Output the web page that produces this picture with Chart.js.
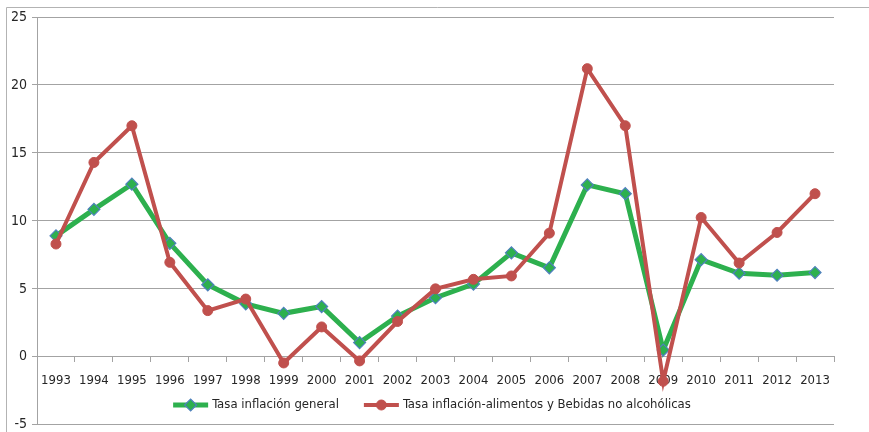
<!DOCTYPE html>
<html>
<head>
<meta charset="utf-8">
<script src="https://cdn.jsdelivr.net/npm/chart.js@4/dist/chart.umd.min.js"></script>
<style>
  html, body { margin: 0; padding: 0; background: #ffffff; }
  #wrap { position: relative; width: 869px; height: 432px; }
</style>
</head>
<body>
<div id="wrap"><canvas id="c" width="869" height="432"></canvas></div>
<script>
// Annual inflation rates (%)
const years = ['1993','1994','1995','1996','1997','1998','1999','2000','2001','2002','2003',
               '2004','2005','2006','2007','2008','2009','2010','2011','2012','2013'];
const generalRate = [8.9, 10.85, 12.7, 8.35, 5.3, 3.9, 3.2, 3.7, 1.05, 3.0, 4.35,
                     5.35, 7.65, 6.55, 12.65, 12.0, 0.5, 7.15, 6.15, 6.0, 6.2];
const foodRate = [8.3, 14.3, 17.0, 6.95, 3.4, 4.25, -0.45, 2.2, -0.3, 2.6, 5.0,
                  5.7, 5.95, 9.1, 21.2, 17.0, -1.8, 10.25, 6.9, 9.15, 12.0];
const seriesNames = ['Tasa inflación general', 'Tasa inflación-alimentos y Bebidas no alcohólicas'];
const yMin = -5, yMax = 25, yStep = 5;

const FONT_FAMILY = "'DejaVu Sans Condensed', 'Liberation Sans', sans-serif";
const FONT_SIZE = 13;
const TEXT_COLOR = '#262626';
const GRID_COLOR = '#a3a3a3';

// Thin outer frame around the chart object
const framePlugin = {
  id: 'frame',
  beforeDraw(chart) {
    const ctx = chart.ctx;
    ctx.save();
    ctx.strokeStyle = '#b3b3b3';
    ctx.lineWidth = 1;
    ctx.beginPath();
    ctx.moveTo(6.5, chart.height);
    ctx.lineTo(6.5, 7.5);
    ctx.lineTo(chart.width, 7.5);
    ctx.stroke();
    ctx.restore();
  }
};

// Legend drawn inside the plot, below the year labels
const insideLegend = {
  id: 'insideLegend',
  afterDraw(chart) {
    const ctx = chart.ctx;
    const sets = chart.data.datasets;
    ctx.save();
    ctx.font = FONT_SIZE + "px " + FONT_FAMILY;
    const lineLen = 35, gap = 4, itemGap = 25;
    const widths = sets.map(ds => ctx.measureText(ds.label).width);
    const total = widths.reduce((s, w) => s + lineLen + gap + w, 0) + itemGap * (sets.length - 1);
    let x = 432 - total / 2;
    const y = 405;
    sets.forEach((ds, i) => {
      ctx.strokeStyle = ds.borderColor;
      ctx.lineWidth = ds.borderWidth;
      ctx.lineCap = 'butt';
      ctx.beginPath();
      ctx.moveTo(x, y);
      ctx.lineTo(x + lineLen, y);
      ctx.stroke();
      ctx.fillStyle = ds.pointBackgroundColor;
      ctx.strokeStyle = ds.pointBorderColor;
      ctx.lineWidth = ds.pointBorderWidth;
      Chart.helpers.drawPoint(ctx, {
        pointStyle: ds.pointStyle, rotation: 0,
        radius: ds.pointRadius, borderWidth: ds.pointBorderWidth
      }, x + lineLen / 2, y);
      ctx.fillStyle = TEXT_COLOR;
      ctx.textAlign = 'left';
      ctx.textBaseline = 'middle';
      ctx.fillText(ds.label, x + lineLen + gap, y);
      x += lineLen + gap + widths[i] + itemGap;
    });
    ctx.restore();
  }
};

new Chart(document.getElementById('c'), {
  type: 'line',
  data: {
    labels: years,
    datasets: [
      {
        label: seriesNames[0],
        data: generalRate,
        borderColor: '#2db04e',
        borderWidth: 5,
        pointStyle: 'rectRot',
        pointRadius: 6,
        pointBackgroundColor: '#2db04e',
        pointBorderColor: '#4f81bd',
        pointBorderWidth: 1.2,
        tension: 0,
        order: 1
      },
      {
        label: seriesNames[1],
        data: foodRate,
        borderColor: '#c0504d',
        borderWidth: 4,
        pointStyle: 'circle',
        pointRadius: 5,
        pointBackgroundColor: '#c0504d',
        pointBorderColor: '#c0504d',
        pointBorderWidth: 1,
        tension: 0,
        order: 0
      }
    ]
  },
  options: {
    responsive: false,
    animation: false,
    devicePixelRatio: 1,
    layout: { padding: { top: 17, right: 35, bottom: 6, left: 0 } },
    plugins: {
      legend: { display: false },
      tooltip: { enabled: false }
    },
    scales: {
      x: {
        type: 'category',
        position: { y: 0 },
        offset: true,
        grid: {
          offset: true,
          drawOnChartArea: false,
          drawTicks: true,
          tickLength: 5,
          color: GRID_COLOR
        },
        border: { display: true, color: GRID_COLOR, width: 1 },
        ticks: {
          autoSkip: false,
          maxRotation: 0,
          padding: 11,
          color: TEXT_COLOR,
          font: { family: FONT_FAMILY, size: FONT_SIZE }
        }
      },
      y: {
        min: yMin,
        max: yMax,
        afterFit(scale) {
          scale.width = 37;
          scale.paddingTop = 0;
          scale.paddingBottom = 0;
        },
        grid: {
          color: GRID_COLOR,
          drawTicks: true,
          tickLength: 5
        },
        border: { display: true, color: GRID_COLOR, width: 1 },
        ticks: {
          stepSize: yStep,
          padding: 5,
          color: TEXT_COLOR,
          font: { family: FONT_FAMILY, size: 14 }
        }
      }
    }
  },
  plugins: [framePlugin, insideLegend]
});
</script>
</body>
</html>
